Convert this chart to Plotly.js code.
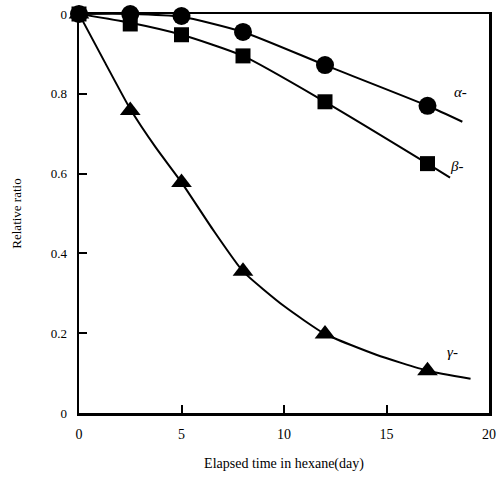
<!DOCTYPE html>
<html><head><meta charset="utf-8">
<script src="https://cdn.plot.ly/plotly-3.0.1.min.js"></script>
<style>body{margin:0;background:#fff}#c{width:500px;height:492px}</style>
</head><body><div id="c"></div>
<script>
// measured points
const days = [0, 2.5, 5, 8, 12, 17];
const alphaVals = [1.0, 1.0, 0.995, 0.955, 0.872, 0.77];
const betaVals  = [1.0, 0.975, 0.948, 0.895, 0.78, 0.625];
const gammaVals = [1.0, 0.758, 0.578, 0.355, 0.198, 0.106];
// fitted curves
const alphaCurveX = [0, 2.5, 5, 8, 12, 17, 18.7];
const alphaCurveY = [1.0, 1.0, 0.993, 0.955, 0.872, 0.77, 0.73];
const betaCurveX  = [0, 2.5, 5, 8, 12, 17, 18.1];
const betaCurveY  = [1.0, 0.978, 0.948, 0.895, 0.78, 0.625, 0.59];
const gammaCurveX = [0, 1.25, 2.5, 3.75, 5, 6.5, 8, 10, 12, 14.5, 17, 19.1];
const gammaCurveY = [1.0, 0.88, 0.762, 0.665, 0.578, 0.462, 0.355, 0.268, 0.198, 0.146, 0.106, 0.086];
// labels
const labelText = ["α-", "β-", "γ-"];
const labelX = [18.6, 18.4, 18.2];
const labelY = [0.805, 0.62, 0.153];
const yTickVals = [0, 0.2, 0.4, 0.6, 0.8, 1.0];
const yTickText = ["0", "0.2", "0.4", "0.6", "0.8", "0"];
const xTickVals = [0, 5, 10, 15, 20];

const line = {color: "#000", width: 2, shape: "spline", smoothing: 0.6};
const traces = [
  {x: alphaCurveX, y: alphaCurveY, mode: "lines", line: line, cliponaxis: false},
  {x: betaCurveX, y: betaCurveY, mode: "lines", line: line, cliponaxis: false},
  {x: gammaCurveX, y: gammaCurveY, mode: "lines", line: Object.assign({}, line, {smoothing: 0.5}), cliponaxis: false},
  {x: days, y: alphaVals, mode: "markers", cliponaxis: false, marker: {symbol: "circle", size: 18, color: "#000"}},
  {x: days, y: betaVals, mode: "markers", cliponaxis: false, marker: {symbol: "square", size: 15, color: "#000"}},
  {x: days, y: gammaVals, mode: "markers", cliponaxis: false, marker: {symbol: "triangle-up", size: 18, color: "#000"}}
];
const annotations = labelText.map((t, i) => ({
  x: labelX[i], y: labelY[i], text: t, showarrow: false,
  font: {family: "Liberation Serif", size: 15, color: "#000", style: "italic"}
}));
const layout = {
  width: 500, height: 492,
  margin: {l: 79, r: 11, t: 14, b: 79},
  paper_bgcolor: "#fff", plot_bgcolor: "#fff",
  showlegend: false,
  font: {family: "Liberation Serif", size: 13, color: "#000"},
  xaxis: {
    range: [0, 20], tickvals: xTickVals, ticks: "inside", ticklen: 8, tickwidth: 2,
    tickcolor: "#000", showgrid: false, zeroline: false,
    showline: true, linewidth: 2.5, linecolor: "#000", mirror: true,
    ticklabelstandoff: 7,
    tickfont: {family: "Liberation Serif", size: 14},
    title: {text: "Elapsed time in hexane(day)", standoff: 17,
            font: {family: "Liberation Serif", size: 14}}
  },
  yaxis: {
    range: [0, 1], tickvals: yTickVals, ticktext: yTickText, ticks: "inside", ticklen: 8, tickwidth: 2,
    tickcolor: "#000", showgrid: false, zeroline: false,
    showline: true, linewidth: 2.5, linecolor: "#000", mirror: true,
    ticklabelstandoff: 7,
    tickfont: {family: "Liberation Serif", size: 13},
    title: {text: "Relative ratio", standoff: 26,
            font: {family: "Liberation Serif", size: 13}}
  },
  annotations: annotations
};
Plotly.newPlot("c", traces, layout, {displayModeBar: false, staticPlot: true});
</script></body></html>
